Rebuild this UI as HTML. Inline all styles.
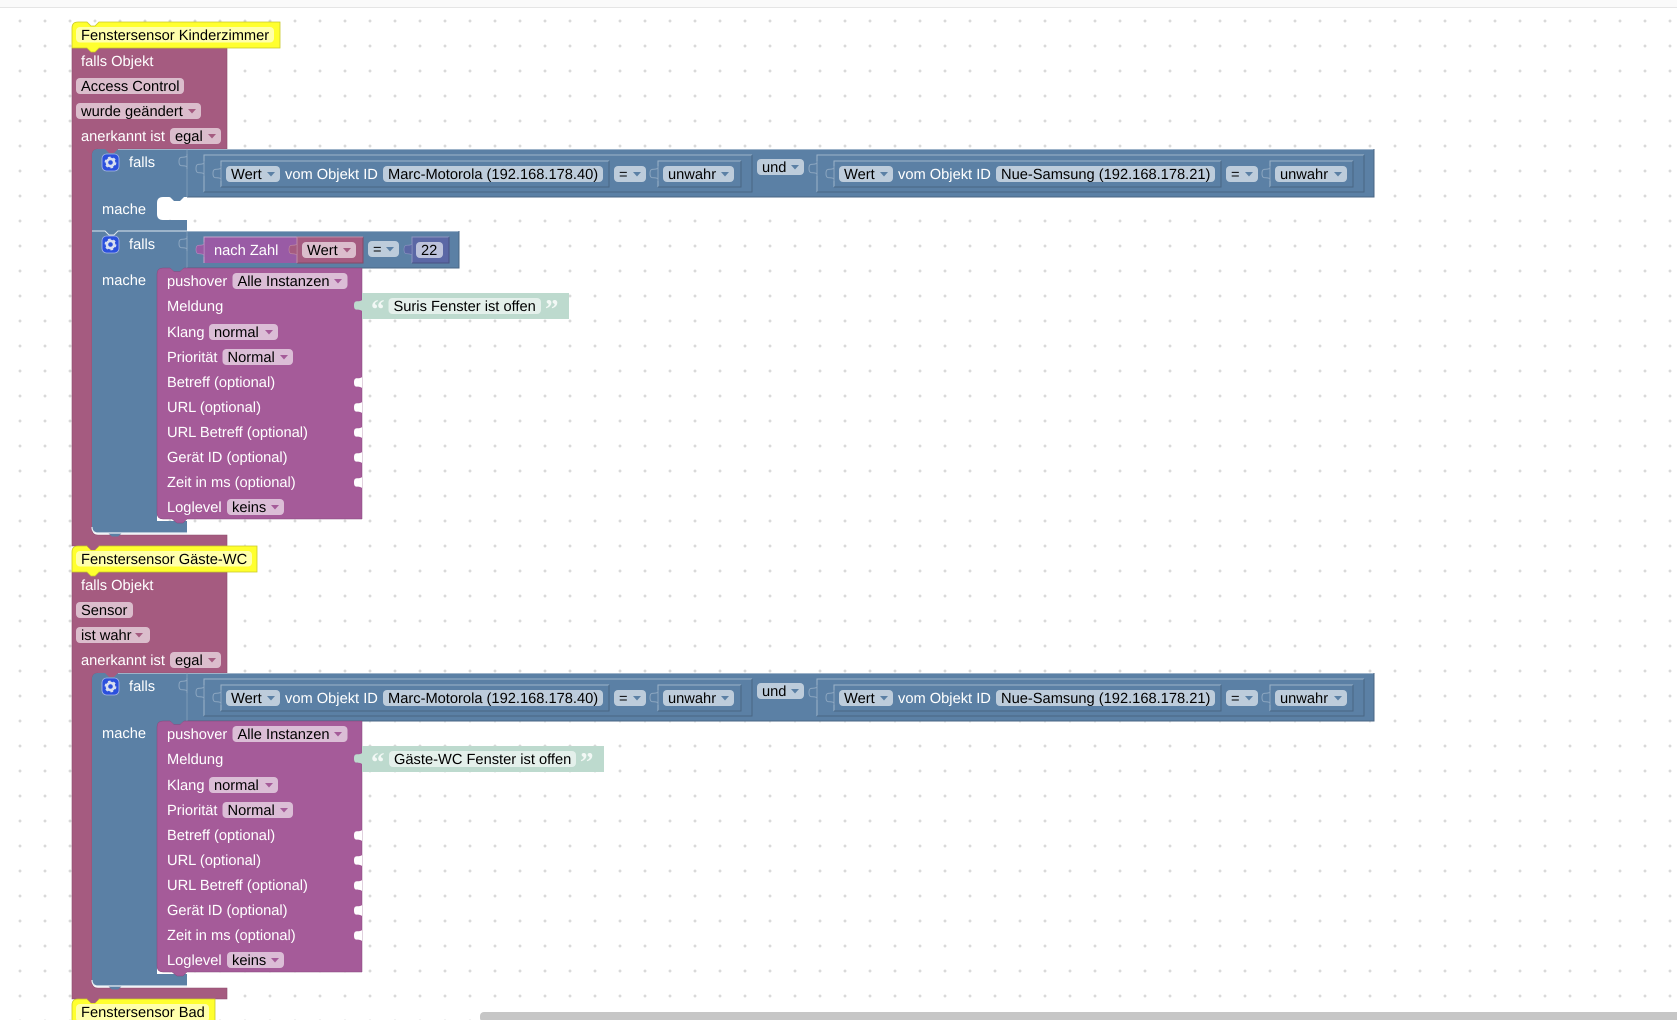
<!DOCTYPE html>
<html lang="de"><head><meta charset="utf-8"><title>Blockly</title>
<style>
html,body{margin:0;padding:0;background:#fff;width:1677px;height:1020px;overflow:hidden}
svg{display:block;position:absolute;left:0;top:0}
text{font-family:"Liberation Sans",Arial,sans-serif;font-size:14.67px;text-rendering:geometricPrecision;white-space:pre}
.w{fill:#fff}.b{fill:#000}
.f{fill:#fff;fill-opacity:.6}
.l{fill:none;stroke:#9db3c9;stroke-width:1}
.d{fill:none;stroke:#496684;stroke-width:1}
.tb{fill:#5b80a5;stroke:#8ca6c0;stroke-width:1}
.ab{fill:#5b80a5}.am{fill:#a55b80}.ap{fill:#a55b99}
.s{fill:#fff}
</style></head><body>
<svg width="1677" height="1020" viewBox="0 0 1677 1020" xmlns="http://www.w3.org/2000/svg">
<defs>
<pattern id="g" patternUnits="userSpaceOnUse" x="68.5" y="19.5" width="25" height="25"><path d="M0,1.5H3M1.5,0V3" stroke="#ccc" stroke-width="1" fill="none"/></pattern>
</defs>
<rect width="1677" height="1020" fill="#fff"/>
<rect width="1677" height="1020" fill="url(#g)"/>
<rect width="1677" height="7" fill="#fafafa"/><rect y="7" width="1677" height="1" fill="#e5e5e5"/>

<!-- EVENT 1 -->
<path fill="#a55b80" stroke="#8d4d6d" stroke-width=".6" d="M72,48H227V149H118L114,153H109L105,149H98Q92,149 92,155V529Q92,535 98,535H227V546H99L95,550H91L87,546H72Z"/>
<path fill="#a55b80" d="M98,147H120V150L114,153.500H109L103,150H98Z"/>
<path fill="#ffff2e" stroke="#c9c92a" stroke-width=".8" d="M72,28Q72,22 78,22H87L91,26H95L99,22H280V48H99L95,52H91L87,48H72Z"/>
<rect x="76" y="27" width="198" height="15.500" rx="4" class="f"/>
<text x="81" y="40" class="b">Fenstersensor Kinderzimmer</text>
<text x="81" y="66" class="w">falls Objekt</text>
<rect x="76" y="78" width="108" height="16" rx="4" class="f"/><text x="81" y="91" class="b">Access Control</text>
<rect x="76" y="103" width="125" height="16" rx="4" class="f"/><text x="81" y="116" class="b">wurde geändert</text><path class="am" d="M188,109h8l-4,4.500z"/>
<text x="81" y="141" class="w">anerkannt ist</text>
<rect x="170" y="128" width="51" height="16" rx="4" class="f"/><text x="175" y="141" class="b">egal</text><path class="am" d="M208,134h8l-4,4.500z"/>

<!-- IF 1 -->
<path fill="#5b80a5" d="M92,155Q92,149 98,149H105L109,153H114L118,149H1374V197H184L180,201H174L170,197H163Q157,197 157,203V214Q157,220 163,220H187V231H118L114,235H109L105,231H92Z"/>
<path d="M118,149.500H1374" class="l"/><path d="M1374,149V197H187" class="d"/><path d="M187,149V197" stroke="#8ca6c0" stroke-width=".7" fill="none"/>
<path class="tb" d="M187,154v2c-3,3 -8,-1.500 -8,5.500c0,7 5,2.500 8,5.500v2z"/>
<path class="l" d="M204,192V155H752"/><path class="d" d="M752,155V192H204"/>
<path class="tb" d="M204,161v2c-3,3 -8,-1.500 -8,5.500c0,7 5,2.500 8,5.500v2z"/>
<path class="l" d="M221,187V161H609"/><path class="d" d="M609,161V187H221"/>
<path class="tb" d="M221,166v2c-3,3 -8,-1.500 -8,5.500c0,7 5,2.500 8,5.500v2z"/>
<rect x="226" y="166" width="54" height="16" rx="4" class="f"/><text x="231" y="179" class="b">Wert</text><path class="ab" d="M267,172h8l-4,4.500z"/>
<text x="285" y="179" class="w">vom Objekt ID</text>
<rect x="383" y="166" width="220" height="16" rx="4" class="f"/><text x="388" y="179" class="b">Marc-Motorola (192.168.178.40)</text>
<rect x="614" y="166" width="32" height="16" rx="4" class="f"/><text x="619" y="179" class="b">=</text><path class="ab" d="M633,172h8l-4,4.500z"/>
<path class="l" d="M658,187V161H741"/><path class="d" d="M741,161V187H658"/>
<path class="tb" d="M658,166v2c-3,3 -8,-1.500 -8,5.500c0,7 5,2.500 8,5.500v2z"/>
<rect x="663" y="166" width="71" height="16" rx="4" class="f"/><text x="668" y="179" class="b">unwahr</text><path class="ab" d="M721,172h8l-4,4.500z"/>
<rect x="757" y="159" width="47" height="16" rx="4" class="f"/><text x="762" y="172" class="b">und</text><path class="ab" d="M791,165h8l-4,4.500z"/>
<path class="l" d="M817,192V155H1364"/><path class="d" d="M1364,155V192H817"/>
<path class="tb" d="M817,161v2c-3,3 -8,-1.500 -8,5.500c0,7 5,2.500 8,5.500v2z"/>
<path class="l" d="M834,187V161H1221"/><path class="d" d="M1221,161V187H834"/>
<path class="tb" d="M834,166v2c-3,3 -8,-1.500 -8,5.500c0,7 5,2.500 8,5.500v2z"/>
<rect x="839" y="166" width="54" height="16" rx="4" class="f"/><text x="844" y="179" class="b">Wert</text><path class="ab" d="M880,172h8l-4,4.500z"/>
<text x="898" y="179" class="w">vom Objekt ID</text>
<rect x="996" y="166" width="219" height="16" rx="4" class="f"/><text x="1001" y="179" class="b">Nue-Samsung (192.168.178.21)</text>
<rect x="1226" y="166" width="32" height="16" rx="4" class="f"/><text x="1231" y="179" class="b">=</text><path class="ab" d="M1245,172h8l-4,4.500z"/>
<path class="l" d="M1270,187V161H1353"/><path class="d" d="M1353,161V187H1270"/>
<path class="tb" d="M1270,166v2c-3,3 -8,-1.500 -8,5.500c0,7 5,2.500 8,5.500v2z"/>
<rect x="1275" y="166" width="72" height="16" rx="4" class="f"/><text x="1280" y="179" class="b">unwahr</text><path class="ab" d="M1334,172h8l-4,4.500z"/>
<rect x="102" y="154" width="17" height="17" rx="4.500" fill="#2b50dd" stroke="#a8b8e8" stroke-width=".8"/>
<circle cx="110.500" cy="162.500" r="3.600" fill="none" stroke="#d8dff0" stroke-width="2.600"/><circle cx="110.500" cy="162.500" r="5.200" fill="none" stroke="#d8dff0" stroke-width="1.400" stroke-dasharray="2.700 2.750"/>
<text x="129" y="167" class="w">falls</text>
<text x="102" y="214" class="w">mache</text>

<!-- IF 2 -->
<path fill="#5b80a5" d="M92,231H105L109,235H114L118,231H459V268H184L180,271.500H174L170,268H164V275H157V521H187V533H122L118,536.500H112L108,533H98Q92,533 92,527Z"/>
<path d="M92,231H105L109,235H114L118,231H187" stroke="#dfe7ee" fill="none"/><path d="M187,231V268" stroke="#8ca6c0" stroke-width=".7" fill="none"/>
<path d="M187,231.500H459" class="l"/><path d="M459,231V268H187" class="d"/>
<path d="M92,527Q92,533 98,533H187" stroke="#e8eef3" stroke-width="1.200" fill="none"/>
<path class="tb" d="M187,236v2c-3,3 -8,-1.500 -8,5.500c0,7 5,2.500 8,5.500v2z"/>
<rect x="102" y="236" width="17" height="17" rx="4.500" fill="#2b50dd" stroke="#a8b8e8" stroke-width=".8"/>
<circle cx="110.500" cy="244.500" r="3.600" fill="none" stroke="#d8dff0" stroke-width="2.600"/><circle cx="110.500" cy="244.500" r="5.200" fill="none" stroke="#d8dff0" stroke-width="1.400" stroke-dasharray="2.700 2.750"/>
<text x="129" y="249" class="w">falls</text>
<text x="102" y="285" class="w">mache</text>
<rect x="204" y="237" width="93" height="26" fill="#995ba5"/><path d="M204,263V237H297" stroke="#c5a3cc" fill="none"/>
<path fill="#995ba5" stroke="#b78cc0" stroke-width=".6" d="M204,242v2c-3,3 -8,-1.500 -8,5.500c0,7 5,2.500 8,5.500v2z"/>
<text x="214" y="255" class="w">nach Zahl</text>
<rect x="297" y="237" width="66" height="26" fill="#a55b80"/><path d="M363,237V263H297" stroke="#844966" fill="none"/><path d="M297,263V237H363" stroke="#c08ca6" fill="none"/>
<path fill="#a55b80" stroke="#c08ca6" stroke-width=".6" d="M297,242v2c-3,3 -8,-1.500 -8,5.500c0,7 5,2.500 8,5.500v2z"/>
<rect x="302" y="242" width="54" height="16" rx="4" class="f"/><text x="307" y="255" class="b">Wert</text><path class="am" d="M343,248h8l-4,4.500z"/>
<rect x="368" y="241" width="31" height="16" rx="4" class="f"/><text x="373" y="254" class="b">=</text><path class="ab" d="M386,247h8l-4,4.500z"/>
<rect x="412" y="237" width="37" height="26" fill="#5b67a5"/><path d="M412,263V237H449" stroke="#8c95c0" fill="none"/><path d="M449,237V263H412" stroke="#495284" fill="none"/>
<path fill="#5b67a5" stroke="#8c95c0" stroke-width=".6" d="M412,242v2c-3,3 -8,-1.500 -8,5.500c0,7 5,2.500 8,5.500v2z"/>
<rect x="416" y="242" width="27" height="16" rx="4" class="f"/><text x="421" y="255" class="b">22</text>

<!-- PUSHOVER 1 -->
<path fill="#a55b99" stroke="#84497a" stroke-width=".5" d="M157,274Q157,268 163,268H170L174,271.500H180L184,268H362V519H187L183,523H177L172,519H163Q157,519 157,513Z"/>
<path class="s" d="M362,375v2c-3,3 -8,-1.500 -8,5.500c0,7 5,2.500 8,5.500v2z"/><path class="s" d="M362,400v2c-3,3 -8,-1.500 -8,5.500c0,7 5,2.500 8,5.500v2z"/><path class="s" d="M362,425v2c-3,3 -8,-1.500 -8,5.500c0,7 5,2.500 8,5.500v2z"/><path class="s" d="M362,450v2c-3,3 -8,-1.500 -8,5.500c0,7 5,2.500 8,5.500v2z"/><path class="s" d="M362,475v2c-3,3 -8,-1.500 -8,5.500c0,7 5,2.500 8,5.500v2z"/>
<text x="167" y="286" class="w">pushover</text>
<rect x="232.500" y="273" width="115" height="16" rx="4" class="f"/><text x="237.500" y="286" class="b">Alle Instanzen</text><path class="ap" d="M334,279h8l-4,4.500z"/>
<text x="167" y="311" class="w">Meldung</text>
<text x="167" y="337" class="w">Klang</text>
<rect x="209" y="324" width="69" height="16" rx="4" class="f"/><text x="214" y="337" class="b">normal</text><path class="ap" d="M265,330h8l-4,4.500z"/>
<text x="167" y="362" class="w">Priorität</text>
<rect x="222.500" y="349" width="70.500" height="16" rx="4" class="f"/><text x="227.500" y="362" class="b">Normal</text><path class="ap" d="M280,355h8l-4,4.500z"/>
<text x="167" y="387" class="w">Betreff (optional)</text>
<text x="167" y="412" class="w">URL (optional)</text>
<text x="167" y="437" class="w">URL Betreff (optional)</text>
<text x="167" y="462" class="w">Gerät ID (optional)</text>
<text x="167" y="487" class="w">Zeit in ms (optional)</text>
<text x="167" y="512" class="w">Loglevel</text>
<rect x="227" y="499" width="57" height="16" rx="4" class="f"/><text x="232" y="512" class="b">keins</text><path class="ap" d="M271,505h8l-4,4.500z"/>
<rect x="362" y="293" width="207" height="26" fill="#bddace"/>
<path fill="#bddace" d="M362,298v2c-3,3 -8,-1.500 -8,5.500c0,7 5,2.500 8,5.500v2z"/>
<rect x="388.500" y="298" width="152.500" height="16" rx="4" fill="#e4f0eb"/><text x="393.500" y="311" class="b">Suris Fenster ist offen</text>
<text x="371" y="318" fill="#f2f8f5" style="font-family:'Liberation Serif',serif;font-size:27px;font-weight:bold">“</text>
<text x="545" y="318" fill="#f2f8f5" style="font-family:'Liberation Serif',serif;font-size:27px;font-weight:bold">”</text>

<!-- EVENT 2 -->
<path fill="#a55b80" stroke="#8d4d6d" stroke-width=".6" d="M72,572H227V673H118L114,677H109L105,673H98Q92,673 92,679V982Q92,988 98,988H227V999H99L95,1003H91L87,999H72Z"/>
<path fill="#a55b80" d="M98,671H120V674L114,677.500H109L103,674H98Z"/>
<path fill="#ffff2e" stroke="#c9c92a" stroke-width=".8" d="M72,552Q72,546 78,546H87L91,550H95L99,546H257V572H99L95,576H91L87,572H72Z"/>
<path fill="#a55b80" d="M87,546L91,550H95L99,546Z"/>
<rect x="76" y="551" width="176" height="15.500" rx="4" class="f"/>
<text x="81" y="564" class="b">Fenstersensor Gäste-WC</text>
<text x="81" y="590" class="w">falls Objekt</text>
<rect x="76" y="602" width="57" height="16" rx="4" class="f"/><text x="81" y="615" class="b">Sensor</text>
<rect x="76" y="627" width="74" height="16" rx="4" class="f"/><text x="81" y="640" class="b">ist wahr</text><path class="am" d="M135,633h8l-4,4.500z"/>
<text x="81" y="665" class="w">anerkannt ist</text>
<rect x="170" y="652" width="51" height="16" rx="4" class="f"/><text x="175" y="665" class="b">egal</text><path class="am" d="M208,658h8l-4,4.500z"/>

<!-- IF 3 -->
<path fill="#5b80a5" d="M92,679Q92,673 98,673H105L109,677H114L118,673H1374V721H184L180,724.500H174L170,721H164V728H157V974H187V986H122L118,989.500H112L108,986H98Q92,986 92,980Z"/>
<path d="M118,673.500H1374" class="l"/><path d="M1374,673V721H187" class="d"/><path d="M187,673V721" stroke="#8ca6c0" stroke-width=".7" fill="none"/>
<path d="M92,980Q92,986 98,986H187" stroke="#e8eef3" stroke-width="1.200" fill="none"/>
<g transform="translate(0,524)">
<path class="tb" d="M187,154v2c-3,3 -8,-1.500 -8,5.500c0,7 5,2.500 8,5.500v2z"/>
<path class="l" d="M204,192V155H752"/><path class="d" d="M752,155V192H204"/>
<path class="tb" d="M204,161v2c-3,3 -8,-1.500 -8,5.500c0,7 5,2.500 8,5.500v2z"/>
<path class="l" d="M221,187V161H609"/><path class="d" d="M609,161V187H221"/>
<path class="tb" d="M221,166v2c-3,3 -8,-1.500 -8,5.500c0,7 5,2.500 8,5.500v2z"/>
<rect x="226" y="166" width="54" height="16" rx="4" class="f"/><text x="231" y="179" class="b">Wert</text><path class="ab" d="M267,172h8l-4,4.500z"/>
<text x="285" y="179" class="w">vom Objekt ID</text>
<rect x="383" y="166" width="220" height="16" rx="4" class="f"/><text x="388" y="179" class="b">Marc-Motorola (192.168.178.40)</text>
<rect x="614" y="166" width="32" height="16" rx="4" class="f"/><text x="619" y="179" class="b">=</text><path class="ab" d="M633,172h8l-4,4.500z"/>
<path class="l" d="M658,187V161H741"/><path class="d" d="M741,161V187H658"/>
<path class="tb" d="M658,166v2c-3,3 -8,-1.500 -8,5.500c0,7 5,2.500 8,5.500v2z"/>
<rect x="663" y="166" width="71" height="16" rx="4" class="f"/><text x="668" y="179" class="b">unwahr</text><path class="ab" d="M721,172h8l-4,4.500z"/>
<rect x="757" y="159" width="47" height="16" rx="4" class="f"/><text x="762" y="172" class="b">und</text><path class="ab" d="M791,165h8l-4,4.500z"/>
<path class="l" d="M817,192V155H1364"/><path class="d" d="M1364,155V192H817"/>
<path class="tb" d="M817,161v2c-3,3 -8,-1.500 -8,5.500c0,7 5,2.500 8,5.500v2z"/>
<path class="l" d="M834,187V161H1221"/><path class="d" d="M1221,161V187H834"/>
<path class="tb" d="M834,166v2c-3,3 -8,-1.500 -8,5.500c0,7 5,2.500 8,5.500v2z"/>
<rect x="839" y="166" width="54" height="16" rx="4" class="f"/><text x="844" y="179" class="b">Wert</text><path class="ab" d="M880,172h8l-4,4.500z"/>
<text x="898" y="179" class="w">vom Objekt ID</text>
<rect x="996" y="166" width="219" height="16" rx="4" class="f"/><text x="1001" y="179" class="b">Nue-Samsung (192.168.178.21)</text>
<rect x="1226" y="166" width="32" height="16" rx="4" class="f"/><text x="1231" y="179" class="b">=</text><path class="ab" d="M1245,172h8l-4,4.500z"/>
<path class="l" d="M1270,187V161H1353"/><path class="d" d="M1353,161V187H1270"/>
<path class="tb" d="M1270,166v2c-3,3 -8,-1.500 -8,5.500c0,7 5,2.500 8,5.500v2z"/>
<rect x="1275" y="166" width="72" height="16" rx="4" class="f"/><text x="1280" y="179" class="b">unwahr</text><path class="ab" d="M1334,172h8l-4,4.500z"/>
<rect x="102" y="154" width="17" height="17" rx="4.500" fill="#2b50dd" stroke="#a8b8e8" stroke-width=".8"/>
<circle cx="110.500" cy="162.500" r="3.600" fill="none" stroke="#d8dff0" stroke-width="2.600"/><circle cx="110.500" cy="162.500" r="5.200" fill="none" stroke="#d8dff0" stroke-width="1.400" stroke-dasharray="2.700 2.750"/>
<text x="129" y="167" class="w">falls</text>
</g>
<text x="102" y="738" class="w">mache</text>

<!-- PUSHOVER 2 -->
<g transform="translate(0,453)">
<path fill="#a55b99" stroke="#84497a" stroke-width=".5" d="M157,274Q157,268 163,268H170L174,271.500H180L184,268H362V519H187L183,523H177L172,519H163Q157,519 157,513Z"/>
<path class="s" d="M362,375v2c-3,3 -8,-1.500 -8,5.500c0,7 5,2.500 8,5.500v2z"/><path class="s" d="M362,400v2c-3,3 -8,-1.500 -8,5.500c0,7 5,2.500 8,5.500v2z"/><path class="s" d="M362,425v2c-3,3 -8,-1.500 -8,5.500c0,7 5,2.500 8,5.500v2z"/><path class="s" d="M362,450v2c-3,3 -8,-1.500 -8,5.500c0,7 5,2.500 8,5.500v2z"/><path class="s" d="M362,475v2c-3,3 -8,-1.500 -8,5.500c0,7 5,2.500 8,5.500v2z"/>
<text x="167" y="286" class="w">pushover</text>
<rect x="232.500" y="273" width="115" height="16" rx="4" class="f"/><text x="237.500" y="286" class="b">Alle Instanzen</text><path class="ap" d="M334,279h8l-4,4.500z"/>
<text x="167" y="311" class="w">Meldung</text>
<text x="167" y="337" class="w">Klang</text>
<rect x="209" y="324" width="69" height="16" rx="4" class="f"/><text x="214" y="337" class="b">normal</text><path class="ap" d="M265,330h8l-4,4.500z"/>
<text x="167" y="362" class="w">Priorität</text>
<rect x="222.500" y="349" width="70.500" height="16" rx="4" class="f"/><text x="227.500" y="362" class="b">Normal</text><path class="ap" d="M280,355h8l-4,4.500z"/>
<text x="167" y="387" class="w">Betreff (optional)</text>
<text x="167" y="412" class="w">URL (optional)</text>
<text x="167" y="437" class="w">URL Betreff (optional)</text>
<text x="167" y="462" class="w">Gerät ID (optional)</text>
<text x="167" y="487" class="w">Zeit in ms (optional)</text>
<text x="167" y="512" class="w">Loglevel</text>
<rect x="227" y="499" width="57" height="16" rx="4" class="f"/><text x="232" y="512" class="b">keins</text><path class="ap" d="M271,505h8l-4,4.500z"/>
<rect x="362" y="293" width="242" height="26" fill="#bddace"/>
<path fill="#bddace" d="M362,298v2c-3,3 -8,-1.500 -8,5.500c0,7 5,2.500 8,5.500v2z"/>
<rect x="389" y="298" width="187" height="16" rx="4" fill="#e4f0eb"/><text x="394" y="311" class="b">Gäste-WC Fenster ist offen</text>
<text x="371" y="318" fill="#f2f8f5" style="font-family:'Liberation Serif',serif;font-size:27px;font-weight:bold">“</text>
<text x="580" y="318" fill="#f2f8f5" style="font-family:'Liberation Serif',serif;font-size:27px;font-weight:bold">”</text>
</g>

<!-- HAT 3 -->
<path fill="#ffff2e" stroke="#c9c92a" stroke-width=".8" d="M72,1005Q72,999 78,999H87L91,1003H95L99,999H215V1022H72Z"/>
<path fill="#a55b80" d="M87,999L91,1003H95L99,999Z"/>
<rect x="76" y="1004" width="133" height="18" rx="4" class="f"/>
<text x="81" y="1017" class="b">Fenstersensor Bad</text>

<rect x="480" y="1012" width="1205" height="10" rx="4" fill="#c6c6c6"/>
</svg>
</body></html>
